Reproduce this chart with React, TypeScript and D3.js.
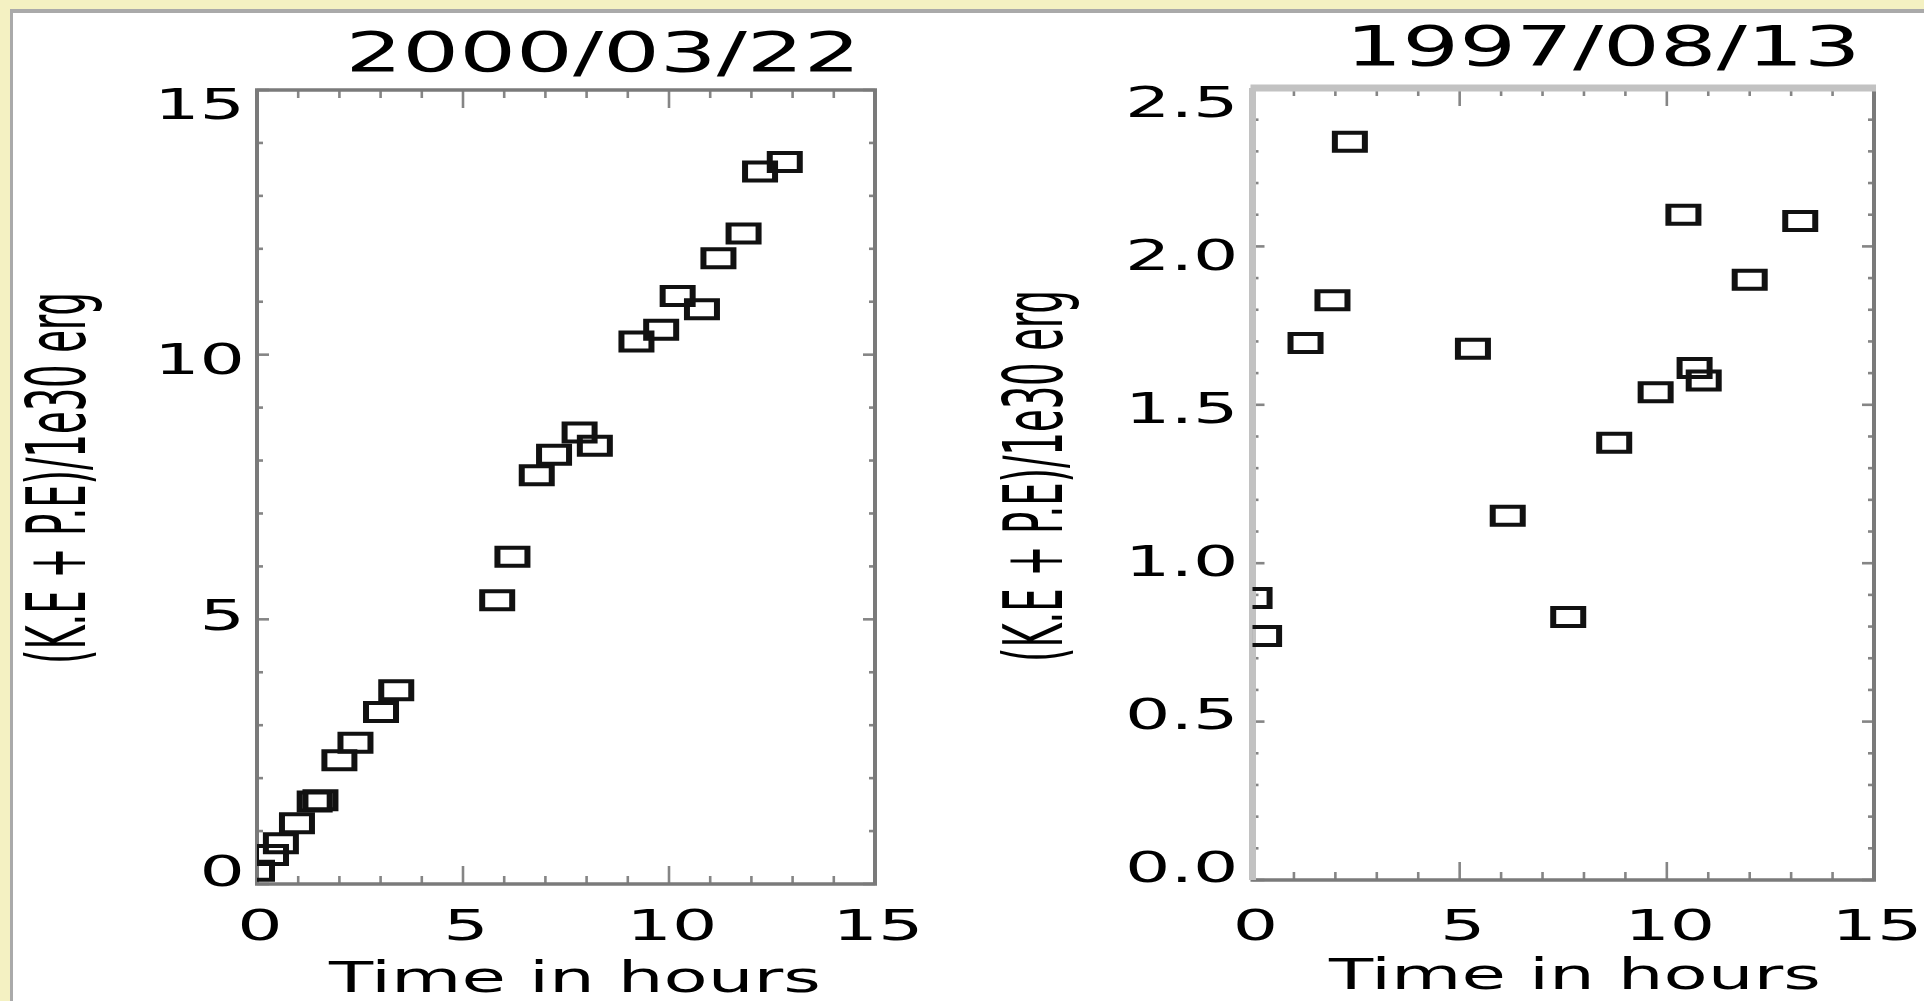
import React from 'react'
import * as d3 from 'd3'

// hours since start / energy (1e30 erg)
const leftHours = [0.0, 0.34, 0.58, 0.97, 1.4, 1.54, 2.0, 2.39, 3.01, 3.38, 5.83, 6.2, 6.79, 7.21, 7.83, 8.2, 9.21, 9.81, 10.21, 10.8, 11.2, 11.81, 12.21, 12.81]
const leftEnergy = [0.25, 0.55, 0.77, 1.15, 1.56, 1.58, 2.34, 2.67, 3.25, 3.66, 5.36, 6.18, 7.72, 8.11, 8.53, 8.28, 10.25, 10.47, 11.11, 10.86, 11.82, 12.29, 13.46, 13.64]

const rightHours = [0.05, 0.28, 1.28, 1.93, 2.35, 5.32, 6.16, 7.62, 8.73, 9.73, 10.4, 10.67, 10.89, 12.0, 13.22]
const rightEnergy = [0.89, 0.77, 1.695, 1.83, 2.33, 1.677, 1.15, 0.83, 1.38, 1.54, 2.1, 1.616, 1.577, 1.895, 2.08]

const xTickLabels = ['0', '5', '10', '15']
const leftYLabels = ['0', '5', '10', '15']
const rightYLabels = ['0.0', '0.5', '1.0', '1.5', '2.0', '2.5']

const titles = ['2000/03/22', '1997/08/13']
const xTitle = 'Time in hours'
const yTitle = '(K.E + P.E)/1e30 erg'

const FONT = "'DejaVu Sans', Verdana, sans-serif"
const STRETCH = 1.68
const AXIS = '#7a7a7a'
const LIGHT = '#c2c2c2'

function Marker({ cx, cy }) {
  // hollow box, thicker on the sides like the stretched original
  const w = 18, h = 11, sx = 6, sy = 4
  const d = `M${cx - w},${cy - h}h${2 * w}v${2 * h}h${-2 * w}Z` +
    `M${cx - w + sx},${cy - h + sy}v${2 * (h - sy)}h${2 * (w - sx)}v${-2 * (h - sy)}Z`
  return <path d={d} fill="#111" fillRule="evenodd" />
}

function Panel({ id, title, hours, energy, yMax, yLabels, yMinorCount, box, titleCx, titleBase, xlabCx, xlabBase, ylabX, ylabY, lightFrame, labelGap }) {
  const x = d3.scaleLinear().domain([0, 15]).range([box.x0, box.x1])
  const y = d3.scaleLinear().domain([0, yMax]).range([box.y1, box.y0])
  // IDL put the labels a little inside the end ticks
  const yLab = d3.scaleLinear().domain([0, yMax]).range([box.y1 - 14, box.y0 + 13])

  const xMajor = xTickLabels.map(Number)
  const xMinor = x.ticks(15).filter(v => !xMajor.includes(v))
  const yMajor = yLabels.map(Number)
  const yMinor = d3.range(0, yMinorCount + 1)
    .map(i => (i * yMax) / yMinorCount)
    .filter(v => !yMajor.some(m => Math.abs(m - v) < 1e-9))

  const tickStroke = { stroke: '#858585', strokeWidth: 2.6 }

  return (
    <g>
      <defs>
        <clipPath id={`clip-${id}`}>
          <rect x={box.x0} y={box.y0} width={box.x1 - box.x0} height={box.y1 - box.y0} />
        </clipPath>
      </defs>

      {/* ticks */}
      {xMajor.concat(xMinor).map(v => {
        const len = xMajor.includes(v) ? 18 : 8
        return (
          <g key={'xt' + v}>
            <line x1={x(v)} x2={x(v)} y1={box.y1} y2={box.y1 - len} {...tickStroke} />
            <line x1={x(v)} x2={x(v)} y1={box.y0} y2={box.y0 + len} {...tickStroke} />
          </g>
        )
      })}
      {yMajor.concat(yMinor).map(v => {
        const len = yMajor.includes(v) ? 12 : 6
        return (
          <g key={'yt' + v}>
            <line x1={box.x0} x2={box.x0 + len} y1={y(v)} y2={y(v)} {...tickStroke} />
            <line x1={box.x1} x2={box.x1 - len} y1={y(v)} y2={y(v)} {...tickStroke} />
          </g>
        )
      })}

      {/* frame */}
      <line x1={box.x0 - 2} x2={box.x1 + 2} y1={box.y1} y2={box.y1} stroke={AXIS} strokeWidth={3.5} />
      <line x1={box.x1} x2={box.x1} y1={box.y0} y2={box.y1} stroke={AXIS} strokeWidth={4} />
      <line x1={box.x0 - 2} x2={box.x1 + 2} y1={box.y0} y2={box.y0}
        stroke={lightFrame ? LIGHT : AXIS} strokeWidth={lightFrame ? 7 : 3.5} />
      <line x1={box.x0} x2={box.x0} y1={box.y0} y2={box.y1}
        stroke={lightFrame ? LIGHT : AXIS} strokeWidth={lightFrame ? 7 : 4} />

      {/* points */}
      <g clipPath={`url(#clip-${id})`}>
        {hours.map((t, i) => (
          <Marker key={i} cx={x(t)} cy={y(energy[i])} />
        ))}
      </g>

      {/* tick labels */}
      {xTickLabels.map(s => (
        <text key={'xl' + s} transform={`translate(${x(+s) + 3},940) scale(${STRETCH},1)`}
          textAnchor="middle" fontSize={42.5} fontFamily={FONT}>{s}</text>
      ))}
      {yLabels.map(s => (
        <text key={'yl' + s} transform={`translate(${box.x0 - labelGap},${yLab(+s) + 15.5}) scale(${STRETCH},1)`}
          textAnchor="end" fontSize={42.5} fontFamily={FONT}>{s}</text>
      ))}

      {/* titles */}
      <text x={titleCx} y={titleBase} textAnchor="middle" fontSize={55} fontFamily={FONT}
        textLength={515} lengthAdjust="spacingAndGlyphs">{title}</text>
      <text x={xlabCx} y={xlabBase} textAnchor="middle" fontSize={42.5} fontFamily={FONT}
        textLength={492} lengthAdjust="spacingAndGlyphs">{xTitle}</text>
      <text transform={`translate(${ylabX},${ylabY}) scale(1.66,1) rotate(-90)`} textAnchor="middle"
        fontSize={49} fontFamily={FONT} textLength={372} lengthAdjust="spacingAndGlyphs">{yTitle}</text>
    </g>
  )
}

export default function App() {
  const W = 1924, H = 1001
  return (
    <div style={{ position: 'absolute', left: 0, top: 0 }}>
      <svg width={W} height={H} style={{ display: 'block' }}>
        <rect width={W} height={H} fill="#f4f1c2" />
        <rect x={10} y={9} width={W} height={H} fill="#aaaaaa" />
        <rect x={13} y={13} width={W} height={H} fill="#ffffff" />

        <Panel id="a" title={titles[0]} hours={leftHours} energy={leftEnergy}
          yMax={15} yLabels={leftYLabels} yMinorCount={15}
          box={{ x0: 257, x1: 875, y0: 90, y1: 884 }}
          titleCx={603} titleBase={71} xlabCx={575} xlabBase={992}
          ylabX={85} ylabY={478} lightFrame={false} labelGap={12} />

        <Panel id="b" title={titles[1]} hours={rightHours} energy={rightEnergy}
          yMax={2.5} yLabels={rightYLabels} yMinorCount={25}
          box={{ x0: 1252.5, x1: 1874, y0: 88, y1: 880 }}
          titleCx={1603} titleBase={65} xlabCx={1575} xlabBase={989}
          ylabX={1062} ylabY={476} lightFrame={true} labelGap={14} />
      </svg>
    </div>
  )
}
